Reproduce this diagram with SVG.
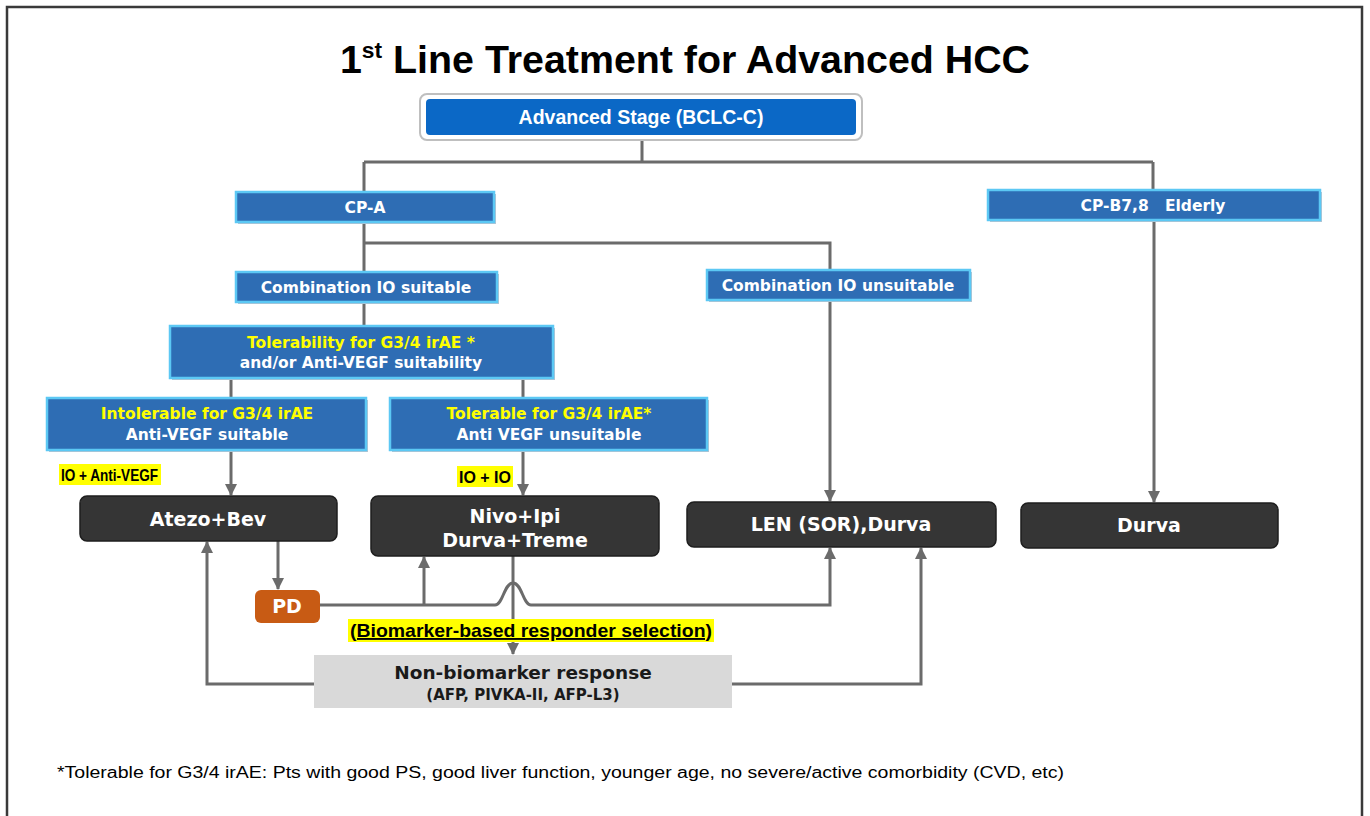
<svg xmlns="http://www.w3.org/2000/svg" width="1370" height="816" viewBox="0 0 1370 816">
<defs>
<marker id="ah" markerUnits="userSpaceOnUse" markerWidth="12" markerHeight="12" viewBox="0 0 12 12" refX="11" refY="6" orient="auto">
<path d="M0,0 L12,6 L0,12 Z" fill="#6b6b6b"/>
</marker>
<style>
.bb{fill:#2e6db4;stroke:#5cc8f4;stroke-width:2.5}
.sh{fill:#b8c4d0}
.dk{fill:#353535;stroke:#1e1e1e;stroke-width:1.5}
.bt{font-family:"DejaVu Sans",Verdana,sans-serif;font-weight:bold;font-size:15.5px;fill:#ffffff;text-anchor:middle}
.yl{fill:#ffff00}
.dt{font-family:"DejaVu Sans",Verdana,sans-serif;font-weight:bold;font-size:19px;fill:#ffffff;text-anchor:middle}
.ln{fill:none;stroke:#6b6b6b;stroke-width:3}
.ar{fill:none;stroke:#6b6b6b;stroke-width:3;marker-end:url(#ah)}
.hl{fill:#ffff00}
.lb{font-family:"Liberation Sans",Arial,sans-serif;font-weight:bold;fill:#000000}
</style>
</defs>
<rect x="0" y="0" width="1370" height="816" fill="#ffffff"/>
<path d="M7,816 V7 H1362 V816" fill="none" stroke="#3a3a3a" stroke-width="2.5"/>

<g id="title">
<text x="685" y="73" text-anchor="middle" font-family="'Liberation Sans',Arial,sans-serif" font-weight="bold" font-size="38" fill="#000" textLength="690" lengthAdjust="spacingAndGlyphs">1<tspan font-size="22" dy="-15">st</tspan><tspan dy="15"> Line Treatment for Advanced HCC</tspan></text>
</g>

<g id="connectors">
<path class="ln" d="M642,138 V162 M364,162 H1153 M364,162 V192 M1153,162 V190"/>
<path class="ln" d="M364,222 V272 M364,243 H830 V270"/>
<path class="ln" d="M364,302 V326"/>
<path class="ln" d="M231,378 V398 M523,378 V398"/>
<path class="ar" d="M231,450 V495"/>
<path class="ar" d="M523,450 V495"/>
<path class="ar" d="M830,300 V501"/>
<path class="ar" d="M1154,220 V502"/>
<path class="ar" d="M278,541 V589"/>
<path class="ar" d="M320,605 H495 C503,605 504,583 513,583 C522,583 523,605 531,605 H830 V548"/>
<path class="ar" d="M424,605 V557"/>
<path class="ar" d="M513,556 V654"/>
<path class="ar" d="M314,684 H207 V542"/>
<path class="ar" d="M732,684 H921 V548"/>
</g>

<g id="advanced">
<rect x="420" y="94" width="442" height="46" rx="7" fill="#ffffff" stroke="#bfbfbf" stroke-width="2"/>
<rect x="426" y="99" width="430" height="36" rx="4" fill="#0b68c6"/>
<text x="641" y="124" text-anchor="middle" font-family="'Liberation Sans',Arial,sans-serif" font-weight="bold" font-size="19.5" fill="#fff">Advanced Stage (BCLC-C)</text>
</g>

<g id="cpa">
<rect class="sh" x="238" y="194" width="258" height="30"/>
<rect class="bb" x="236" y="192" width="258" height="30"/>
<text class="bt" x="365" y="213">CP-A</text>
</g>

<g id="cpb">
<rect class="sh" x="990" y="192" width="332" height="30"/>
<rect class="bb" x="988" y="190" width="332" height="30"/>
<text class="bt" x="1153" y="211" style="white-space:pre">CP-B7,8   Elderly</text>
</g>

<g id="io-suitable">
<rect class="sh" x="238" y="274" width="261" height="30"/>
<rect class="bb" x="236" y="272" width="261" height="30"/>
<text class="bt" x="366" y="293">Combination IO suitable</text>
</g>

<g id="io-unsuitable">
<rect class="sh" x="709" y="272" width="263" height="30"/>
<rect class="bb" x="707" y="270" width="263" height="30"/>
<text class="bt" x="838" y="291">Combination IO unsuitable</text>
</g>

<g id="tolerability">
<rect class="sh" x="172" y="328" width="383" height="52"/>
<rect class="bb" x="170" y="326" width="383" height="52"/>
<text class="bt yl" x="361" y="348">Tolerability for G3/4 irAE *</text>
<text class="bt" x="361" y="368">and/or Anti-VEGF suitability</text>
</g>

<g id="intolerable">
<rect class="sh" x="49" y="400" width="319" height="52"/>
<rect class="bb" x="47" y="398" width="319" height="52"/>
<text class="bt yl" x="207" y="419">Intolerable for G3/4 irAE</text>
<text class="bt" x="207" y="440">Anti-VEGF suitable</text>
</g>

<g id="tolerable">
<rect class="sh" x="392" y="400" width="317" height="52"/>
<rect class="bb" x="390" y="398" width="317" height="52"/>
<text class="bt yl" x="549" y="419">Tolerable for G3/4 irAE*</text>
<text class="bt" x="549" y="440">Anti VEGF unsuitable</text>
</g>

<g id="label-io-antivegf">
<rect class="hl" x="59" y="464" width="102" height="21"/>
<text class="lb" x="61" y="481" font-size="17" textLength="97" lengthAdjust="spacingAndGlyphs">IO + Anti-VEGF</text>
</g>

<g id="label-io-io">
<rect class="hl" x="457" y="466" width="56" height="21"/>
<text class="lb" x="459" y="483" font-size="17" textLength="52" lengthAdjust="spacingAndGlyphs">IO + IO</text>
</g>

<g id="atezo">
<rect class="dk" x="80" y="496" width="257" height="45" rx="7"/>
<text class="dt" x="208" y="526">Atezo+Bev</text>
</g>

<g id="nivo">
<rect class="dk" x="371" y="496" width="288" height="60" rx="7"/>
<text class="dt" x="515" y="523">Nivo+Ipi</text>
<text class="dt" x="515" y="547">Durva+Treme</text>
</g>

<g id="len">
<rect class="dk" x="687" y="502" width="309" height="45" rx="7"/>
<text class="dt" x="841" y="531">LEN (SOR),Durva</text>
</g>

<g id="durva">
<rect class="dk" x="1021" y="503" width="257" height="45" rx="7"/>
<text class="dt" x="1149" y="532">Durva</text>
</g>

<g id="pd">
<rect x="255" y="590" width="65" height="33" rx="6" fill="#c85b14"/>
<text class="dt" x="287" y="613" font-size="18">PD</text>
</g>

<g id="biomarker-label">
<rect class="hl" x="348" y="619" width="366" height="23"/>
<text class="lb" x="531" y="637" font-size="19" text-anchor="middle" text-decoration="underline" textLength="362" lengthAdjust="spacingAndGlyphs">(Biomarker-based responder selection)</text>
</g>

<g id="non-biomarker">
<rect x="314" y="655" width="418" height="53" fill="#d9d9d9"/>
<text x="523" y="679" text-anchor="middle" font-family="'DejaVu Sans',Verdana,sans-serif" font-weight="bold" font-size="18.5" fill="#1a1a1a">Non-biomarker response</text>
<text x="523" y="700" text-anchor="middle" font-family="'DejaVu Sans',Verdana,sans-serif" font-weight="bold" font-size="15" fill="#1a1a1a">(AFP, PIVKA-II, AFP-L3)</text>
</g>

<g id="footnote">
<text x="57" y="778" font-family="'Liberation Sans',Arial,sans-serif" font-size="16" fill="#000" textLength="1007" lengthAdjust="spacingAndGlyphs">*Tolerable for G3/4 irAE: Pts with good PS, good liver function, younger age, no severe/active comorbidity (CVD, etc)</text>
</g>
</svg>
